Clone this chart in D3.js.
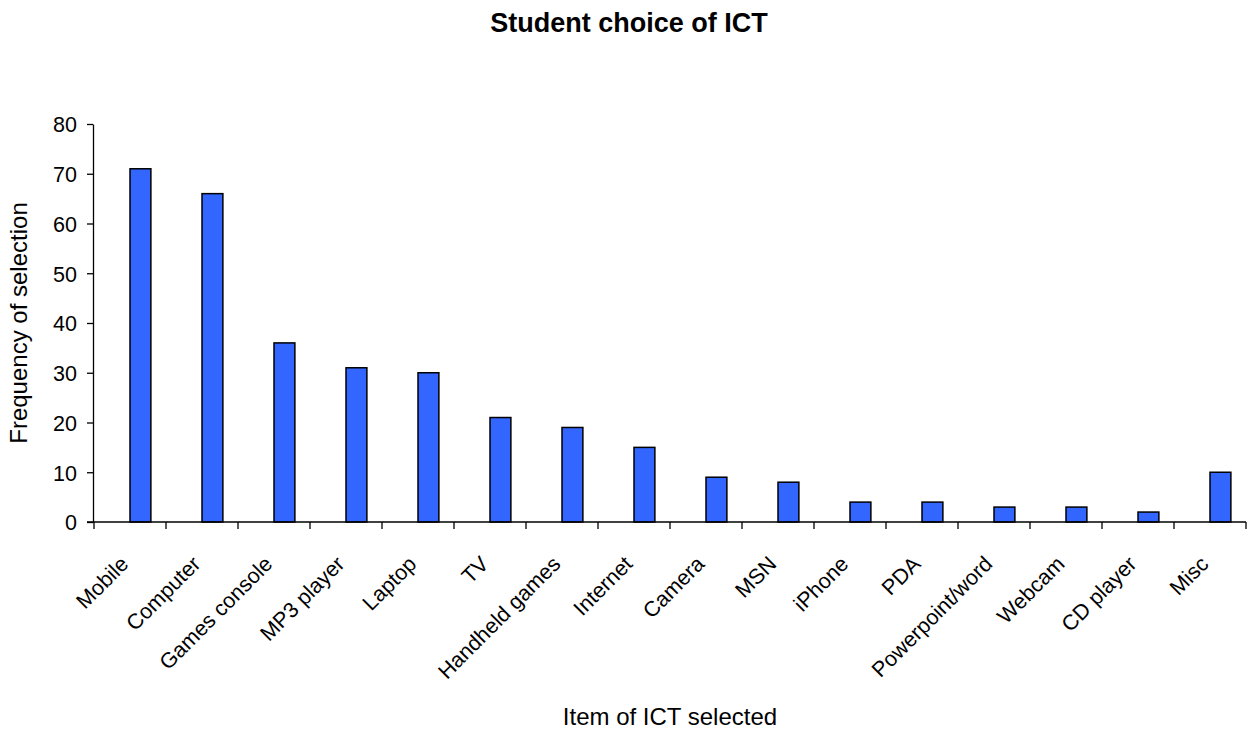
<!DOCTYPE html>
<meta charset="utf-8">
<style>
    body { margin: 0; background: #fff; }
    svg { font-family: "Liberation Sans", Arial, sans-serif; }
    .tick text { font-size: 21.5px; fill: #000; }
    .domain, .tick line { stroke: #000; stroke-width: 1.3px; }
    .bar { fill: #3366ff; stroke: #000; stroke-width: 1.5px; }
</style>
<script src="https://d3js.org/d3.v7.min.js"></script>
<div id="chart"></div>
<script>
var categories = ["Mobile", "Computer", "Games console", "MP3 player", "Laptop", "TV",
    "Handheld games", "Internet", "Camera", "MSN", "iPhone", "PDA",
    "Powerpoint/word", "Webcam", "CD player", "Misc"];
var frequency = [71, 66, 36, 31, 30, 21, 19, 15, 9, 8, 4, 4, 3, 3, 2, 10];
var yTicks = [0, 10, 20, 30, 40, 50, 60, 70, 80];

var width = 1254, height = 733;
var margin = { top: 124, right: 8, bottom: 211, left: 94 };

var svg = d3.select("#chart").append("svg")
    .attr("width", width)
    .attr("height", height);

var x = d3.scaleBand()
    .domain(categories)
    .range([margin.left, width - margin.right]);

var y = d3.scaleLinear()
    .domain([0, 80])
    .range([height - margin.bottom, margin.top]);

// bars sit just right of category centre (empty neighbour series in the original)
var barW = x.bandwidth() * 0.29;

svg.selectAll(".bar")
    .data(frequency)
    .enter().append("rect")
    .attr("class", "bar")
    .attr("x", function (d, i) { return x(categories[i]) + x.bandwidth() / 2; })
    .attr("y", function (d) { return y(d); })
    .attr("width", barW)
    .attr("height", function (d) { return y(0) - y(d); });

// y axis
svg.append("g")
    .attr("transform", "translate(" + (margin.left - 1) + ",0)")
    .call(d3.axisLeft(y).tickValues(yTicks).tickSize(6).tickPadding(10).tickSizeOuter(0))
    .selectAll("text").attr("dy", "0.36em");

// x axis: ticks between categories
var xAxis = svg.append("g")
    .attr("transform", "translate(0," + y(0) + ")");
xAxis.append("line")
    .attr("class", "domain")
    .attr("x1", margin.left - 7).attr("x2", width - margin.right);
xAxis.selectAll(".sep")
    .data(d3.range(categories.length + 1))
    .enter().append("line")
    .attr("stroke", "#000").attr("stroke-width", 1.3)
    .attr("x1", function (d) { return margin.left + d * x.step(); })
    .attr("x2", function (d) { return margin.left + d * x.step(); })
    .attr("y1", 0).attr("y2", 7);

xAxis.selectAll(".lab")
    .data(categories)
    .enter().append("text")
    .attr("font-size", "21.5px")
    .attr("text-anchor", "end")
    .attr("transform", function (d) {
        return "translate(" + (x(d) + x.bandwidth() / 2 - 5.5) + ",38) rotate(-45)";
    })
    .attr("dy", "0.35em")
    .text(function (d) { return d; });

// titles
svg.append("text")
    .attr("x", 629).attr("y", 32)
    .attr("text-anchor", "middle")
    .attr("font-weight", "bold")
    .attr("font-size", "27px")
    .text("Student choice of ICT");

svg.append("text")
    .attr("transform", "translate(27," + ((margin.top + height - margin.bottom) / 2) + ") rotate(-90)")
    .attr("text-anchor", "middle")
    .attr("font-size", "24px")
    .text("Frequency of selection");

svg.append("text")
    .attr("x", (margin.left + width - margin.right) / 2)
    .attr("y", 725)
    .attr("text-anchor", "middle")
    .attr("font-size", "24px")
    .text("Item of ICT selected");
</script>
